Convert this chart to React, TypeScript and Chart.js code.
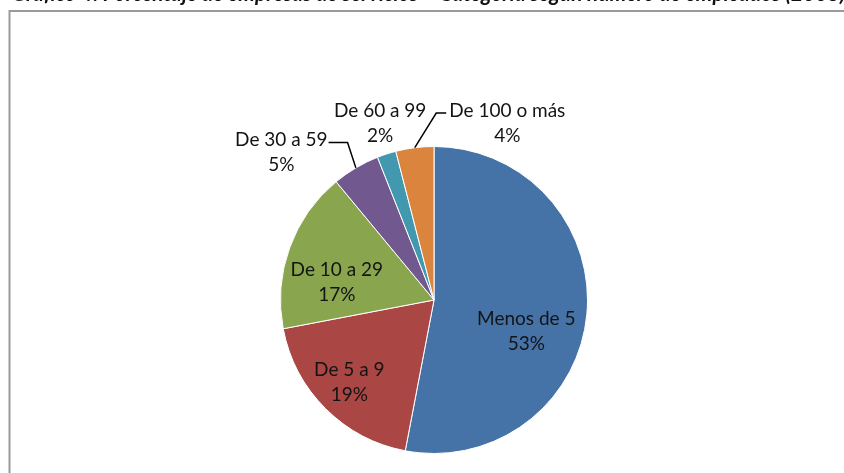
import { useEffect, useRef } from "react";
import { Chart, registerables } from "chart.js";

Chart.register(...registerables);

const titleText =
  "Gráfico 4: Porcentaje de empresas de servicios – Categoría según número de empleados (2008)";
const categories = ["Menos de 5", "De 5 a 9", "De 10 a 29", "De 30 a 59", "De 60 a 99", "De 100 o más"];
const shares = [53, 19, 17, 5, 2, 4];
const sliceColors = ["#4572A7", "#AA4643", "#89A54E", "#71588F", "#4198AF", "#DB843D"];

// label placement: polar position of the label block centre (canvas angle in degrees, fraction of radius)
const labelLayout = [
  { a: 19, r: 0.636 },
  { a: 135.7, r: 0.771 },
  { a: 190.5, r: 0.644 },
  { a: 224.1, r: 1.385, leader: { dir: 1, len: 19, dy: 3, gap: 1 } },
  { a: 253.0, r: 1.2 },
  { a: 292.55, r: 1.245, leader: { dir: -1, len: 10, dy: 2, gap: 3 } },
];

const FONT = "19px Lato";
const LINE_GAP = 25;

const decorPlugin = {
  id: "decor",
  beforeDraw(chart: any) {
    const ctx = chart.ctx;
    ctx.save();
    ctx.fillStyle = "#ffffff";
    ctx.fillRect(0, 0, chart.width, chart.height);
    ctx.strokeStyle = "#9a9a9a";
    ctx.lineWidth = 2;
    ctx.beginPath();
    ctx.moveTo(9.5, chart.height + 2);
    ctx.lineTo(9.5, 11);
    ctx.lineTo(chart.width + 2, 11);
    ctx.stroke();
    ctx.fillStyle = "#111";
    ctx.font = "italic bold 21px Lato";
    ctx.textAlign = "left";
    ctx.textBaseline = "alphabetic";
    ctx.fillText(titleText, 12, 1);
    ctx.restore();
  },
  afterDatasetsDraw(chart: any) {
    const ctx = chart.ctx;
    const meta = chart.getDatasetMeta(0);
    ctx.save();
    ctx.font = FONT;
    ctx.fillStyle = "#141414";
    ctx.textAlign = "center";
    ctx.textBaseline = "middle";
    meta.data.forEach((arc: any, i: number) => {
      const p = arc.getProps(["x", "y", "startAngle", "endAngle", "outerRadius"], true);
      const L: any = labelLayout[i];
      const ang = (L.a * Math.PI) / 180;
      const cx = p.x + Math.cos(ang) * L.r * p.outerRadius;
      const cy = p.y + Math.sin(ang) * L.r * p.outerRadius;
      const l1 = categories[i];
      const l2 = `${shares[i]}%`;
      ctx.fillText(l1, cx, cy - LINE_GAP / 2);
      ctx.fillText(l2, cx, cy + LINE_GAP / 2);
      if (L.leader) {
        const mid = (p.startAngle + p.endAngle) / 2;
        const ex = p.x + Math.cos(mid) * p.outerRadius;
        const ey = p.y + Math.sin(mid) * p.outerRadius;
        const w = ctx.measureText(l1).width;
        const ly = cy - LINE_GAP / 2 + L.leader.dy;
        const hx0 = L.leader.dir > 0 ? cx + w / 2 + L.leader.gap : cx - w / 2 - L.leader.gap;
        const hx1 = hx0 + L.leader.dir * L.leader.len;
        ctx.strokeStyle = "#000";
        ctx.lineWidth = 1.5;
        ctx.beginPath();
        ctx.moveTo(hx0, ly);
        ctx.lineTo(hx1, ly);
        ctx.lineTo(ex, ey);
        ctx.stroke();
      }
    });
    ctx.restore();
  },
};

export default function App() {
  const ref = useRef<HTMLCanvasElement | null>(null);
  useEffect(() => {
    document.body.style.margin = "0";
    const canvas = ref.current!;
    const chart = new Chart(canvas, {
      type: "pie",
      data: {
        labels: categories,
        datasets: [
          {
            data: shares,
            backgroundColor: sliceColors,
            borderColor: "#ffffff",
            borderWidth: 1,
          },
        ],
      },
      options: {
        responsive: false,
        animation: false,
        layout: { padding: { left: 280, right: 256, top: 146, bottom: 19 } },
        plugins: {
          legend: { display: false },
          title: { display: false },
          tooltip: { enabled: false },
        },
      },
      plugins: [decorPlugin],
    });
    return () => chart.destroy();
  }, []);
  return (
    <div style={{ position: "absolute", left: 0, top: 0, width: 844, height: 473 }}>
      <canvas ref={ref} width={844} height={473} style={{ width: 844, height: 473 }} />
    </div>
  );
}
